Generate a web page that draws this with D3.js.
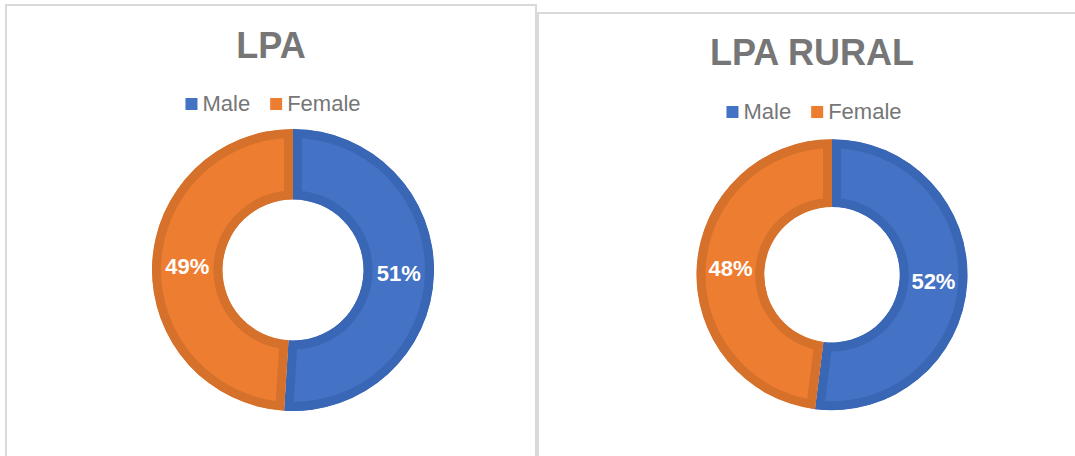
<!DOCTYPE html>
<html>
<head>
<meta charset="utf-8">
<script src="https://cdn.jsdelivr.net/npm/d3@7"></script>
<style>
  html, body { margin: 0; padding: 0; background: #ffffff; }
  svg { display: block; font-family: "Liberation Sans", Arial, sans-serif; }
</style>
</head>
<body>
<svg id="chart" width="1075" height="456"></svg>
<script>
// ---- data ----
const categories = ["Male", "Female"];
const lpaValues = [51, 49];
const ruralValues = [52, 48];
const chartTitles = ["LPA", "LPA RURAL"];

// ---- styles ----
const fillColors = ["#4472C4", "#ED7D31"];
const bandColors = ["#3A66B6", "#D5712B"];
const textGray = "#767676";

const panels = [
  { values: lpaValues, title: chartTitles[0], x0: 6, x1: 536, y0: 5,
    titleY: 58, legendY: 111, cx: 293, cy: 270, r: 141 },
  { values: ruralValues, title: chartTitles[1], x0: 538, x1: 1086, y0: 13,
    titleY: 65, legendY: 119, cx: 832, cy: 274.7, r: 135.5 }
];

const svg = d3.select("#chart");
const defs = svg.append("defs");
const color = d3.scaleOrdinal().domain(categories).range(fillColors);
const band = d3.scaleOrdinal().domain(categories).range(bandColors);

const pie = d3.pie().sort(null).value(d => d.value);

panels.forEach((p, pi) => {
  const g = svg.append("g");
  // panel border
  g.append("rect")
    .attr("x", p.x0).attr("y", p.y0)
    .attr("width", p.x1 - p.x0).attr("height", 500)
    .attr("fill", "#fff")
    .attr("stroke", "#d9d9d9").attr("stroke-width", 2);

  const midX = (p.x0 + p.x1) / 2;

  // title
  g.append("text")
    .attr("x", midX).attr("y", p.titleY)
    .attr("text-anchor", "middle")
    .attr("font-size", 36).attr("font-weight", "bold")
    .attr("fill", textGray)
    .text(p.title);

  // legend
  const leg = g.append("g");
  let xCursor = 0;
  categories.forEach((c, i) => {
    const item = leg.append("g").attr("transform", `translate(${xCursor},0)`);
    item.append("rect")
      .attr("x", 0).attr("y", p.legendY - 13)
      .attr("width", 12).attr("height", 12)
      .attr("fill", color(c));
    const t = item.append("text")
      .attr("x", 17).attr("y", p.legendY)
      .attr("font-size", 22).attr("fill", textGray)
      .text(c);
    const w = t.node().getComputedTextLength();
    xCursor += 17 + w + 20;
  });
  const legW = xCursor - 20;
  leg.attr("transform", `translate(${midX - legW / 2 + 2},0)`);

  // donut
  const data = categories.map((c, i) => ({ cat: c, value: p.values[i] }));
  const arcs = pie(data);
  const arc = d3.arc().innerRadius(p.r * 0.5).outerRadius(p.r);

  const dg = g.append("g").attr("transform", `translate(${p.cx},${p.cy})`);
  arcs.forEach((a, i) => {
    const id = `clip-${pi}-${i}`;
    defs.append("clipPath").attr("id", id)
      .append("path")
      .attr("d", arc(a));
    dg.append("path")
      .attr("clip-path", `url(#${id})`)
      .attr("d", arc(a))
      .attr("fill", color(a.data.cat))
      .attr("stroke", band(a.data.cat))
      .attr("stroke-width", 18)
      .attr("stroke-linejoin", "miter");
  });

  arcs.forEach(a => {
    const [lx, ly] = arc.centroid(a);
    dg.append("text")
      .attr("x", lx).attr("y", ly)
      .attr("text-anchor", "middle")
      .attr("dominant-baseline", "central")
      .attr("font-size", 22).attr("font-weight", "bold")
      .attr("fill", "#ffffff")
      .text(a.data.value + "%");
  });
});
</script>
</body>
</html>
